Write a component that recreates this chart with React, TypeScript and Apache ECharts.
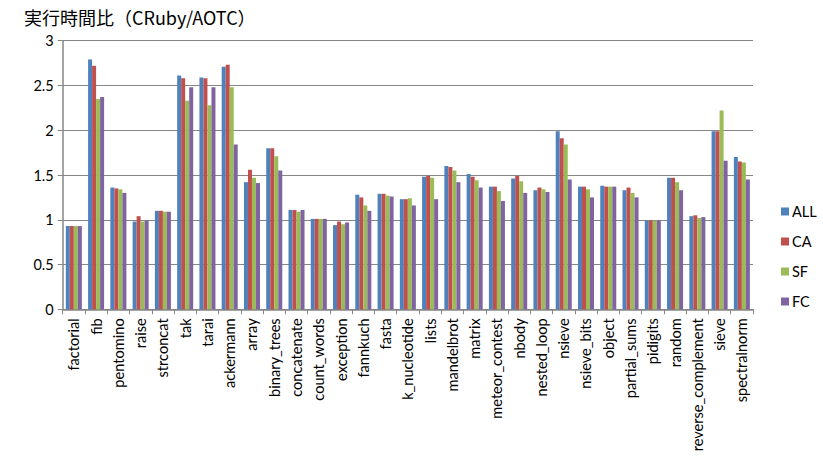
import React, { useEffect, useRef } from "react";
import * as echarts from "echarts";

const categories = [
  "factorial", "fib", "pentomino", "raise", "strconcat", "tak", "tarai", "ackermann",
  "array", "binary_trees", "concatenate", "count_words", "exception", "fannkuch", "fasta",
  "k_nucleotide", "lists", "mandelbrot", "matrix", "meteor_contest", "nbody", "nested_loop",
  "nsieve", "nsieve_bits", "object", "partial_sums", "pidigits", "random",
  "reverse_complement", "sieve", "spectralnorm",
];

const allValues = [
  0.93, 2.79, 1.36, 0.98, 1.10, 2.61, 2.59, 2.71,
  1.42, 1.80, 1.11, 1.01, 0.94, 1.28, 1.29,
  1.23, 1.48, 1.60, 1.51, 1.37, 1.46, 1.33,
  1.99, 1.37, 1.38, 1.33, 0.99, 1.47,
  1.04, 1.99, 1.70,
];
const caValues = [
  0.93, 2.72, 1.35, 1.04, 1.10, 2.58, 2.58, 2.73,
  1.56, 1.80, 1.11, 1.01, 0.98, 1.25, 1.29,
  1.23, 1.49, 1.59, 1.48, 1.37, 1.49, 1.36,
  1.91, 1.37, 1.37, 1.36, 0.99, 1.47,
  1.05, 1.99, 1.65,
];
const sfValues = [
  0.93, 2.35, 1.34, 0.98, 1.09, 2.33, 2.28, 2.48,
  1.47, 1.71, 1.09, 1.01, 0.95, 1.16, 1.27,
  1.24, 1.47, 1.55, 1.44, 1.32, 1.43, 1.34,
  1.84, 1.34, 1.37, 1.30, 0.99, 1.42,
  1.02, 2.22, 1.64,
];
const fcValues = [
  0.93, 2.37, 1.30, 0.99, 1.09, 2.48, 2.48, 1.84,
  1.41, 1.55, 1.11, 1.01, 0.97, 1.10, 1.26,
  1.16, 1.23, 1.42, 1.36, 1.21, 1.30, 1.31,
  1.45, 1.25, 1.37, 1.25, 0.99, 1.33,
  1.03, 1.66, 1.45,
];

const seriesNames = ["ALL", "CA", "SF", "FC"];
const seriesColors = ["#4F81BD", "#C0504D", "#9BBB59", "#8064A2"];
const seriesValues = [allValues, caValues, sfValues, fcValues];

const yTicks = [0, 0.5, 1, 1.5, 2, 2.5, 3];

const titleText = "実行時間比（CRuby/AOTC）";

export default function App() {
  const ref = useRef<HTMLDivElement>(null);

  useEffect(() => {
    if (!ref.current) return;
    const chart = echarts.init(ref.current, undefined, { renderer: "svg" });
    const axisGray = "#868686";
    chart.setOption({
      animation: false,
      backgroundColor: "#ffffff",
      title: {
        text: titleText,
        left: 19,
        top: 3,
        textStyle: {
          fontFamily: "'Noto Sans CJK JP', sans-serif",
          fontSize: 18,
          fontWeight: "normal",
          color: "#000000",
        },
      },
      legend: {
        orient: "vertical",
        left: 776,
        top: 199,
        itemWidth: 8,
        itemHeight: 8,
        itemGap: 15,
        icon: "rect",
        data: seriesNames,
        textStyle: { fontFamily: "Lato, sans-serif", fontSize: 14.5, color: "#000000", padding: [0, 0, 0, -2] },
      },
      grid: { left: 62.7, right: 70, top: 40.7, bottom: 152.7, containLabel: false },
      xAxis: {
        type: "category",
        data: categories,
        axisLine: { lineStyle: { color: axisGray, width: 1.5 } },
        axisTick: { show: true, interval: 0, length: 5, lineStyle: { color: axisGray } },
        axisLabel: {
          interval: 0,
          rotate: 90,
          margin: 9,
          fontFamily: "Lato, sans-serif",
          fontSize: 14.6,
          color: "#000000",
        },
      },
      yAxis: {
        type: "value",
        min: yTicks[0],
        max: yTicks[yTicks.length - 1],
        interval: 0.5,
        axisLine: { show: true, lineStyle: { color: axisGray, width: 1.5 } },
        axisTick: { show: true, length: 5, lineStyle: { color: axisGray } },
        splitLine: { lineStyle: { color: axisGray, width: 1 } },
        axisLabel: {
          margin: 9,
          fontFamily: "Lato, sans-serif",
          fontSize: 14.5,
          color: "#000000",
          formatter: (v: number) => String(v),
        },
      },
      series: seriesNames.map((name, i) => ({
        name,
        type: "bar",
        data: seriesValues[i],
        barGap: "0%",
        barCategoryGap: "28%",
        itemStyle: { color: seriesColors[i] },
      })),
    });
    return () => chart.dispose();
  }, []);

  return (
    <div
      ref={ref}
      style={{ position: "fixed", left: 0, top: 0, width: 823, height: 462, background: "#fff" }}
    />
  );
}
